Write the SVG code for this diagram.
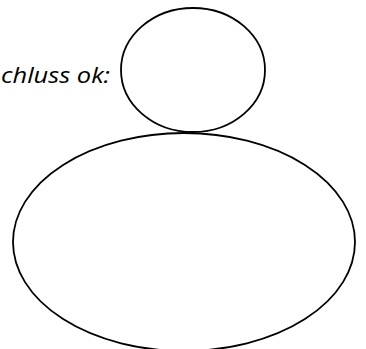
<svg xmlns="http://www.w3.org/2000/svg" width="366" height="349" viewBox="0 0 366 349">
<style>
.shape{fill:none;stroke:#000;stroke-width:1.8}
.lbl{font-family:"Open Sans","Liberation Sans",sans-serif;font-style:italic;font-size:22px;fill:#000}
</style>
<rect width="366" height="349" fill="#fff"/>
<g id="label">
<text class="lbl" x="1" y="83" textLength="109" lengthAdjust="spacingAndGlyphs">chluss ok:</text>
</g>
<g id="small-circle">
<ellipse class="shape" cx="193" cy="70" rx="72" ry="62"/>
</g>
<g id="big-ellipse">
<ellipse class="shape" cx="184" cy="242" rx="171" ry="109"/>
</g>
<g id="connectors"></g>
</svg>
